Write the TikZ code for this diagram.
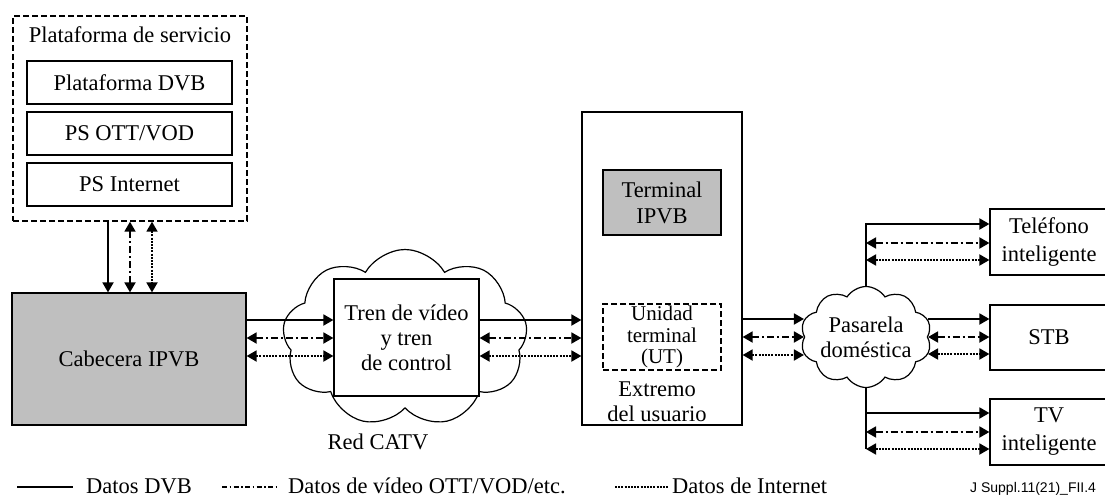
\documentclass[tikz,border=0pt]{standalone}
\usepackage{fontspec}
\setmainfont{Liberation Serif}
\newfontfamily\sansf{Liberation Sans}
\usetikzlibrary{arrows.meta,shapes.symbols}
\begin{document}
\begin{tikzpicture}[x=1pt,y=-1pt,
  every node/.style={font=\fontsize{22.5}{25}\selectfont, inner sep=0pt, align=center},
  box/.style={draw, line width=1.2pt, fill=white},
  gbox/.style={box, fill=black!25},
  dbox/.style={draw, line width=1.4pt, dash pattern=on 6pt off 3pt},
  a1/.style={line width=1.8pt, -{Triangle[length=10pt,width=11pt]}},
  a2/.style={line width=1.8pt, {Triangle[length=10pt,width=11pt]}-{Triangle[length=10pt,width=11pt]}},
  dd/.style={dash pattern=on 7pt off 3pt on 2pt off 3pt},
  dt/.style={dash pattern=on 2pt off 1.2pt},
  cl/.style={cloud, draw, line width=1.2pt, fill=white, inner sep=0pt},
]
\useasboundingbox (0,0) rectangle (1105,497);

% Plataforma de servicio
\node[dbox, minimum width=234pt, minimum height=205pt] (plat) at (130,118.5) {};
\node (plattxt) at (130,35) {Plataforma de servicio};
\node[box, minimum width=205pt, minimum height=43pt] (dvb) at (129.5,82.5) {Plataforma DVB};
\node[box, minimum width=205pt, minimum height=43pt] (ott) at (129.5,133.5) {PS OTT/VOD};
\node[box, minimum width=205pt, minimum height=43pt] (psi) at (129.5,184.5) {PS Internet};

% Cabecera
\node[gbox, minimum width=234pt, minimum height=132pt] (cab) at (129,359) {Cabecera IPVB};

% Red CATV
\node[cl, cloud puffs=9, cloud puff arc=120, minimum width=245pt, minimum height=177pt] (catv) at (405,338) {};
\node[box, minimum width=145pt, minimum height=117pt] (tren) at (406.5,337.5) {Tren de vídeo\\y tren\\de control};
\node (redtxt) at (378,442) {Red CATV};

% Extremo del usuario
\node[box, minimum width=160pt, minimum height=313pt] (ext) at (662,268.5) {};
\node[gbox, minimum width=118pt, minimum height=65pt, font=\fontsize{22.5}{26}\selectfont] (term) at (662,202.5) {Terminal\\IPVB};
\node[dbox, minimum width=118pt, minimum height=66pt, font=\fontsize{21}{21.5}\selectfont] (ut) at (662,337) {Unidad\\terminal\\(UT)};
\node (exttxt) at (657,402) {Extremo\\del usuario};

% Pasarela
\node[cl, cloud puffs=10, cloud puff arc=115, minimum width=131pt, minimum height=101pt] (pas) at (866,337) {};
\node (pastxt) at (pas.center) {Pasarela\\doméstica};

% Devices
\node[box, minimum width=118pt, minimum height=66pt, font=\fontsize{22.5}{28}\selectfont] (tel) at (1049,242) {Teléfono\\inteligente};
\node[box, minimum width=118pt, minimum height=65pt] (stb) at (1049,337.5) {STB};
\node[box, minimum width=118pt, minimum height=66pt, font=\fontsize{22.5}{28}\selectfont] (tv) at (1049,432) {TV\\inteligente};

% vertical arrows
\draw[a1] (108,0 |- plat.south) -- (108,0 |- cab.north);
\draw[a2,dd] (130,0 |- plat.south) -- (130,0 |- cab.north);
\draw[a2,dt] (152,0 |- plat.south) -- (152,0 |- cab.north);

% Cabecera -> Tren
\draw[a1] (cab.east |- 0,320) -- (tren.west |- 0,320);
\draw[a2,dd] (cab.east |- 0,338) -- (tren.west |- 0,338);
\draw[a2,dt] (cab.east |- 0,356) -- (tren.west |- 0,356);

% Tren -> Extremo
\draw[a1] (tren.east |- 0,320) -- (ext.west |- 0,320);
\draw[a2,dd] (tren.east |- 0,338) -- (ext.west |- 0,338);
\draw[a2,dt] (tren.east |- 0,356) -- (ext.west |- 0,356);

% Extremo -> Pasarela
\draw[a1] (ext.east |- 0,319) -- (pas.west |- 0,319);
\draw[a2,dd] (ext.east |- 0,337) -- (pas.west |- 0,337);
\draw[a2,dt] (ext.east |- 0,355) -- (pas.west |- 0,355);

% Pasarela -> STB
\draw[a1] (pas.east |- 0,319) -- (stb.west |- 0,319);
\draw[a2,dd] (pas.east |- 0,337) -- (stb.west |- 0,337);
\draw[a2,dt] (pas.east |- 0,354) -- (stb.west |- 0,354);

% Pasarela -> Telefono
\draw[a1] (pas.north) -- (pas.north |- 0,224) -- (tel.west |- 0,224);
\draw[a2,dd] (pas.north |- 0,243) -- (tel.west |- 0,243);
\draw[a2,dt] (pas.north |- 0,260) -- (tel.west |- 0,260);

% Pasarela -> TV
\draw[line width=1.8pt] (pas.south) -- (pas.south |- 0,449);
\draw[a1] (pas.south |- 0,413) -- (tv.west |- 0,413);
\draw[a2,dd] (pas.south |- 0,432) -- (tv.west |- 0,432);
\draw[a2,dt] (pas.south |- 0,449) -- (tv.west |- 0,449);

% Legend
\draw[line width=1.4pt] (17,487) -- (73,487);
\node[anchor=base west] (l1) at (86,493) {Datos DVB};
\draw[line width=1.4pt, dash pattern=on 5pt off 2.5pt on 1.5pt off 2.5pt] (222,487) -- (278,487);
\node[anchor=base west] (l2) at (288,493) {Datos de vídeo OTT/VOD/etc.};
\draw[line width=1.4pt, dt] (615,487) -- (668,487);
\node[anchor=base west] (l3) at (672,493) {Datos de Internet};
\node[anchor=base west, font=\sansf\fontsize{14}{16}\selectfont] (ref) at (970,492) {J Suppl.11(21)\_FII.4};
\end{tikzpicture}
\end{document}
